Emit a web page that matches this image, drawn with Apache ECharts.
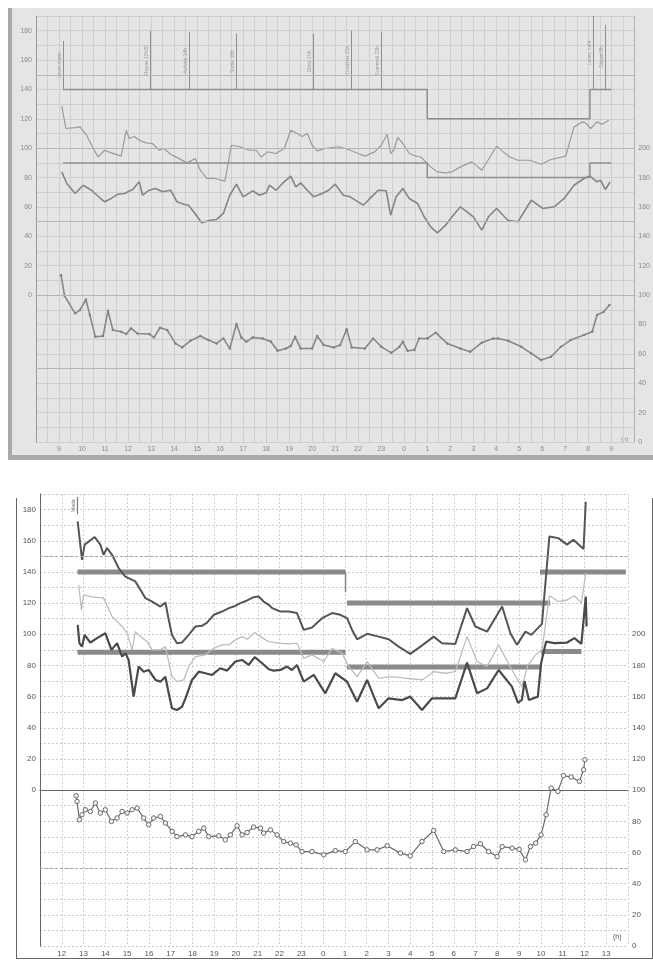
<!DOCTYPE html>
<html><head><meta charset="utf-8">
<script src="https://cdn.jsdelivr.net/npm/echarts@6.0.0/dist/echarts.min.js"></script>
<style>
html,body{margin:0;padding:0;background:#fff;}
#wrap{position:relative;width:653px;height:964px;overflow:hidden;}
.bg{position:absolute;}
#chart{position:absolute;left:0;top:0;width:653px;height:964px;}
</style></head><body>
<div id="wrap">
<div class="bg" style="left:8px;top:8px;width:645px;height:452px;background:#e5e5e7"></div>
<div class="bg" style="left:8px;top:8px;width:4px;height:452px;background:#a9a9ab"></div>
<div class="bg" style="left:8px;top:455px;width:645px;height:5px;background:#a9a9ab"></div>
<div class="bg" style="left:16px;top:498px;width:635px;height:460px;border:1.5px solid #666;border-top:none;"></div>
<div id="chart"></div>
</div>
<script>
// ---------- TOP PANEL DATA (hours; values > 24 are next day) ----------
const topSys = [[9.12,128.6],[9.30,113.4],[9.70,114],[9.91,114.5],[10.2,108.8],[10.41,102],[10.70,94],[10.98,98.6],[11.27,96.8],[11.70,94.6],[11.92,112],[12.06,106.6],[12.27,108],[12.49,105.4],[12.77,103.6],[13.06,103.2],[13.35,98.6],[13.56,99.8],[13.85,95.9],[14.13,93.6],[14.56,90],[14.92,93],[15.14,85],[15.42,79.4],[15.78,79.4],[16.21,77.6],[16.49,102],[16.85,101],[17.28,98.6],[17.57,98.6],[17.78,94],[18.07,97.5],[18.43,96.4],[18.79,99.8],[19.07,112.2],[19.36,110],[19.57,108],[19.79,110],[20.0,102],[20.22,98.2],[20.57,99.8],[21.15,101],[21.58,99.1],[22.0,96.4],[22.29,94.6],[22.72,97.5],[23.0,102],[23.26,109.5],[23.41,96.4],[23.55,98.6],[23.72,107.3],[23.94,103.2],[24.22,96.4],[24.51,94.6],[24.72,94],[24.94,90.7],[25.15,87.3],[25.44,83.9],[25.80,83.2],[26.08,83.9],[26.44,87.3],[26.94,90.7],[27.16,87.8],[27.37,85],[27.73,94],[28.02,101.4],[28.30,97.5],[28.59,94],[28.94,91.8],[29.45,91.8],[29.95,89.1],[30.38,92.3],[31.02,94.6],[31.38,114.5],[31.74,117.9],[31.88,117.2],[32.1,113.4],[32.38,117.9],[32.6,116.3],[32.89,119]];
const topDia = [[9.12,83.9],[9.34,76],[9.7,69.2],[10.05,74.8],[10.41,71.4],[10.70,67.3],[10.98,63.5],[11.27,65.8],[11.56,68.7],[11.84,69.2],[12.2,71.9],[12.49,77.1],[12.63,68],[12.92,71.4],[13.2,72.6],[13.49,70.3],[13.85,71.4],[14.13,63.5],[14.42,61.9],[14.63,61.2],[14.85,56.7],[15.2,49.2],[15.57,51],[15.85,51.5],[16.14,55.6],[16.42,68],[16.71,75.5],[17.0,66.9],[17.42,71],[17.71,68],[18.0,69.6],[18.14,74.8],[18.43,71.4],[18.71,76],[19.07,81],[19.29,73.7],[19.5,76.4],[19.79,71.4],[20.07,66.9],[20.43,69.2],[20.72,71.4],[21.0,75.5],[21.36,68],[21.65,66.9],[22.0,63.5],[22.22,61.2],[22.58,66.9],[22.87,71.4],[23.22,71],[23.41,54.4],[23.65,66.9],[23.94,72.6],[24.22,65.8],[24.58,62.4],[24.87,53.3],[25.15,46.5],[25.44,42.4],[25.80,47.6],[26.08,53.3],[26.44,60.1],[26.73,56.7],[27.01,53.3],[27.37,44.2],[27.66,53.3],[28.02,59],[28.5,51],[28.94,49.9],[29.52,64.6],[30.02,59],[30.52,60.1],[30.95,65.8],[31.38,74.8],[31.81,79.4],[32.07,81],[32.38,77.1],[32.53,78.2],[32.74,71.9],[32.95,77.1]];
const topHR = [[9.09,113.6],[9.24,99.5],[9.70,87.6],[9.91,89.8],[10.17,97],[10.34,86.4],[10.58,71.6],[10.91,72.1],[11.13,89.3],[11.34,76.2],[11.70,75.1],[11.92,73.5],[12.13,77.3],[12.41,73.9],[12.92,73.5],[13.13,71.2],[13.39,77.8],[13.70,76.2],[14.06,67.1],[14.35,64.4],[14.71,68.9],[15.14,72.1],[15.49,69.4],[15.85,67.1],[16.14,70.5],[16.42,63.7],[16.71,80.3],[16.92,71.2],[17.14,68.2],[17.42,71.2],[17.85,70.5],[18.21,68.2],[18.50,62.1],[18.86,63.7],[19.07,65.3],[19.26,71.6],[19.50,63.7],[20.0,63.7],[20.22,72.1],[20.50,66],[20.93,64.4],[21.22,66],[21.50,76.7],[21.72,64.4],[22.29,63.7],[22.65,70.5],[23.01,64.8],[23.44,60.7],[23.79,64.8],[23.94,68.2],[24.15,62.1],[24.44,62.6],[24.65,70.5],[25.01,70.5],[25.37,74.4],[25.87,67.1],[26.44,63.7],[26.87,61.4],[27.37,67.6],[27.87,70.5],[28.08,70.5],[28.52,68.9],[29.09,64.8],[29.52,60.3],[29.95,55.8],[30.38,58],[30.81,64.8],[31.24,69.4],[31.81,72.8],[32.17,75],[32.38,86.4],[32.67,88.6],[32.92,93.2]];
const topSysLimit = [[9.17,140],[25.0,140],[25.0,120],[32.07,120],[32.07,140],[33.0,140]];
const topDiaLimit = [[9.17,90],[25.0,90],[25.0,80],[32.07,80],[32.07,90],[33.0,90]];
const topEventTimes = [9.17,12.95,14.67,16.71,20.05,21.7,23.0,32.2,32.75];
const topEventTops  = [173,180,179,178,178,180,179,190,184];
const topEventTexts = ['Lever matin','Repas 12h30','Activité 14h','Sortie 16h','Dîner 20h','Coucher 21h','Sommeil 23h','Lever, café','Départ 8h'];
const topRefLevels = [150,100,50,0,-50];

// ---------- BOTTOM PANEL DATA ----------
const botSys = [[12.73,172.4],[12.85,157.5],[12.93,147.8],[13.05,157.5],[13.51,162.4],[13.77,157.5],[13.92,151],[14.08,155.3],[14.31,151],[14.61,142.5],[14.92,137],[15.38,133.9],[15.61,128.5],[15.84,123.2],[16.15,121],[16.53,117.8],[16.76,120.4],[16.91,109.3],[17.06,99.6],[17.29,94.3],[17.52,94.7],[17.83,99.6],[18.14,105],[18.44,105.4],[18.67,107.5],[18.98,112.5],[19.36,114.6],[19.67,116.8],[19.89,117.8],[20.2,120],[20.51,121.7],[20.81,123.8],[21.04,124.2],[21.27,121],[21.5,118.9],[21.66,116.8],[22.04,114.6],[22.42,114.6],[22.80,113.6],[23.11,102.8],[23.49,104.3],[23.95,110.3],[24.41,113.6],[24.79,112.5],[25.10,110.3],[25.33,102.8],[25.56,96.8],[26.02,100.3],[26.55,98.5],[27.01,96.8],[27.47,92.1],[28.0,87.4],[28.47,92.1],[29.08,98.5],[29.46,94.3],[30.07,93.8],[30.61,116.8],[30.99,105],[31.53,101.7],[32.22,117.8],[32.6,100.7],[32.9,93.2],[33.29,101.7],[33.56,99.6],[34.05,106.7],[34.39,162.8],[34.8,161.7],[35.2,157.5],[35.49,160.7],[35.86,156],[35.96,154.7],[36.06,185]];
const botMid = [[12.78,131.7],[12.9,115.7],[13.0,125.3],[13.31,124.2],[13.92,123.2],[14.31,111.4],[14.77,105],[15.0,100.7],[15.23,90],[15.38,101.7],[15.61,98.5],[15.92,95.3],[16.15,90],[16.53,90],[16.76,92.1],[17.06,72.8],[17.29,69.6],[17.6,70.7],[17.83,79.3],[18.14,85.7],[18.59,86.8],[18.98,91],[19.36,93.2],[19.67,93.2],[19.97,96.4],[20.28,98.5],[20.51,96.8],[20.86,101.1],[21.12,98.5],[21.5,95.3],[21.96,94.3],[22.42,93.8],[22.80,94.3],[23.11,84.6],[23.49,86.8],[24.03,82.5],[24.41,91],[24.87,87.9],[25.17,79.3],[25.56,72.8],[26.02,82.5],[26.55,71.8],[27.17,72.8],[27.78,71.8],[28.54,70.7],[29.08,76],[29.61,75],[30.07,76],[30.61,98.5],[31.07,82.5],[31.53,79.3],[32.06,93.2],[32.67,77.1],[33.13,66.4],[33.4,80],[33.76,86.8],[34.05,90],[34.39,124.7],[34.8,121],[35.2,122],[35.54,124.7],[35.86,120],[36.06,139.3]];
const botDia = [[12.73,106],[12.81,94.3],[12.93,92.1],[13.05,99.6],[13.31,94.7],[13.62,97.5],[14.0,100.7],[14.28,90],[14.54,94.3],[14.77,85.7],[14.92,87.9],[15.07,83.5],[15.30,60],[15.53,79.3],[15.76,76],[15.99,77.1],[16.30,70.7],[16.53,69.6],[16.76,72.8],[16.91,62.1],[17.06,52.5],[17.29,51.4],[17.52,53.5],[17.68,58.9],[17.98,70.7],[18.29,76],[18.59,75],[18.90,73.9],[19.28,78.2],[19.59,76.7],[19.97,82.5],[20.28,83.5],[20.58,80.3],[20.86,85.3],[21.2,81.4],[21.5,77.6],[21.73,76.7],[22.04,77.1],[22.34,79.3],[22.57,77.1],[22.80,80.3],[23.11,69.6],[23.57,73.9],[24.1,62.1],[24.56,75],[25.10,69.6],[25.56,56.7],[26.02,70.7],[26.55,52.5],[27.01,58.9],[27.63,57.8],[28.0,60],[28.54,51.4],[29.0,58.9],[30.07,58.9],[30.61,81.8],[31.07,62.1],[31.53,65.3],[32.06,77.1],[32.67,66.4],[32.95,56],[33.13,58],[33.25,70],[33.45,57.8],[33.86,60],[34.01,81.4],[34.24,95.3],[34.62,94.3],[35.2,94.7],[35.54,97.5],[35.86,93.8],[36.06,124.2],[36.1,105]];
const botHR = [[12.66,96.4],[12.70,92.7],[12.81,81],[12.93,84.2],[13.08,87.4],[13.31,86.3],[13.54,91.7],[13.77,85.3],[14.0,87.4],[14.28,79.9],[14.54,82.1],[14.77,86.3],[15.0,85.3],[15.23,87.4],[15.46,88.5],[15.76,82.1],[15.99,77.8],[16.22,82.1],[16.53,83.1],[16.76,78.9],[17.07,73.5],[17.29,70.2],[17.68,71.3],[17.98,70.2],[18.29,73.5],[18.52,75.6],[18.75,70.2],[19.21,70.7],[19.51,68.1],[19.74,71.3],[20.05,77.1],[20.28,71.3],[20.51,72.8],[20.81,76.3],[21.12,75.6],[21.27,72.4],[21.58,74.5],[21.89,71.3],[22.19,67],[22.50,66],[22.76,64.9],[23.03,60.6],[23.49,60.6],[24.03,58.5],[24.56,61.2],[25.02,60.6],[25.48,67],[26.02,61.7],[26.48,61.7],[26.94,64.3],[27.55,59.6],[28.0,57.8],[28.54,67],[29.08,74.1],[29.54,60.6],[30.07,61.7],[30.61,60.6],[30.91,63.8],[31.22,65.6],[31.60,60.6],[31.99,57.4],[32.22,63.8],[32.68,62.8],[33.0,62],[33.29,55.3],[33.52,63.8],[33.76,66],[34.01,71.3],[34.24,84.2],[34.47,101.3],[34.78,99.2],[35.04,109.3],[35.39,108.4],[35.77,105.6],[35.96,113.1],[36.02,119.5]];
const botSysLimits = [[[12.72,140],[25.03,140]],[[25.09,120],[34.43,120]],[[33.96,140],[37.9,140]]];
const botDiaLimits = [[[12.72,88.5],[25.03,88.5]],[[25.09,79],[34.01,79]],[[34.01,89],[35.86,89]]];
const botStep = [[25.03,140],[25.03,127]];
const botEventTimes = [12.72];
const botEventTexts = ['Mada'];
const botRefLevels = [150,-50];

// ---------- CHART ----------
const FONT = 'Liberation Sans';
const hourLbl = (lo,hi) => v => (Math.abs(v-Math.round(v))<1e-6 && v>lo && v<hi) ? String(Math.round(v)%24) : '';

function ln(data, xi, yi, color, width, extra) {
  return Object.assign({type:'line', xAxisIndex:xi, yAxisIndex:yi, data:data, symbol:'none',
    lineStyle:{color:color, width:width}, silent:true, z:3}, extra||{});
}

const series = [];
// top panel
series.push(ln(topSysLimit,0,0,'#8e8e90',1.5,{
  markLine:{silent:true, symbol:['none','none'], lineStyle:{color:'#8e8e90',width:1,type:'solid'},
    label:{show:true, position:'insideMiddleTop', distance:1, fontSize:5, color:'#9a9a9c', fontFamily:FONT,
      formatter:p=>topEventTexts[p.dataIndex]},
    data: topEventTimes.map((t,i)=>[{coord:[t,140]},{coord:[t,topEventTops[i]]}])}
}));
series.push(ln(topDiaLimit,0,0,'#8e8e90',1.5));
series.push(ln(topSys,0,0,'#9a9a9c',1.2,{
  markLine:{silent:true, symbol:['none','none'], label:{show:false},
    lineStyle:{color:'#b5b5b7',width:1,type:'solid'}, data: topRefLevels.map(v=>({yAxis:v}))}, z:2
}));
series.push(ln(topDia,0,0,'#858587',1.6));
series.push(ln(topHR,0,1,'#878789',1.6,{symbol:'circle',symbolSize:2.5,itemStyle:{color:'#828284'}}));
// bottom panel
botSysLimits.forEach(seg=>series.push(ln(seg,1,2,'#8a8a8a',5,{z:2})));
botDiaLimits.forEach(seg=>series.push(ln(seg,1,2,'#8a8a8a',5,{z:2})));
series.push(ln(botStep,1,2,'#8a8a8a',1.5,{z:2,
  markLine:{silent:true, symbol:['none','none'], label:{show:false},
    lineStyle:{color:'#a8a8a8',width:1,type:[3,2]}, data: botRefLevels.map(v=>({yAxis:v}))}}));
series.push(ln(botMid,1,2,'#bdbdbd',1.3));
series.push(ln(botSys,1,2,'#555',2,{
  markLine:{silent:true, symbol:['none','none'], lineStyle:{color:'#777',width:1.2,type:'solid'},
    label:{show:true, position:'insideMiddleTop', distance:1, fontSize:5, color:'#777', fontFamily:FONT,
      formatter:p=>botEventTexts[p.dataIndex]},
    data: botEventTimes.map(t=>[{coord:[t,177]},{coord:[t,188]}])}
}));
series.push(ln(botDia,1,2,'#4a4a4a',2.2));
series.push(ln(botHR,1,3,'#6a6a6a',1.2,{symbol:'circle',symbolSize:4.5,
  itemStyle:{color:'#f4f4f4',borderColor:'#6a6a6a',borderWidth:1}}));

const option = {
  animation:false,
  textStyle:{fontFamily:FONT},
  grid:[{left:36,top:16,width:605,height:426},{left:40,top:494,width:588,height:452}],
  xAxis:[
    {gridIndex:0,type:'value',min:8,max:34,interval:0.5,
      axisLine:{lineStyle:{color:'#9a9a9c'}},axisTick:{show:false},
      axisLabel:{formatter:hourLbl(8,34),fontSize:7,color:'#8a8a8c',margin:4},
      splitLine:{show:true,lineStyle:{color:'#cfcfd1',width:1}}},
    {gridIndex:1,type:'value',min:11,max:38,interval:1,
      axisLine:{lineStyle:{color:'#666'}},axisTick:{show:false},
      axisLabel:{formatter:hourLbl(11,38),fontSize:8,color:'#555',margin:4},
      splitLine:{show:true,lineStyle:{color:'#d0d0d0',width:1,type:[2,2]}}}
  ],
  yAxis:[
    {gridIndex:0,type:'value',min:-100,max:190,interval:10,
      axisLine:{show:true,lineStyle:{color:'#9a9a9c'}},axisTick:{show:false},
      axisLabel:{formatter:v=>(v>=0&&v<=180&&v%20===0)?String(v):'',fontSize:7,color:'#8a8a8c',margin:4},
      splitLine:{show:true,lineStyle:{color:'#cfcfd1',width:1}}},
    {gridIndex:0,type:'value',position:'right',min:0,max:290,interval:10,
      axisLine:{show:true,lineStyle:{color:'#b0b0b2'}},axisTick:{show:false},
      axisLabel:{formatter:v=>(v<=200&&v%20===0)?String(v):'',fontSize:7,color:'#8a8a8c',margin:4},
      splitLine:{show:false}},
    {gridIndex:1,type:'value',min:-100,max:190,interval:10,
      axisLine:{show:true,lineStyle:{color:'#666'}},axisTick:{show:false},
      axisLabel:{formatter:v=>(v>=0&&v<=180&&v%20===0)?String(v):'',fontSize:8,color:'#555',margin:4},
      splitLine:{show:true,lineStyle:{color:'#c8c8c8',width:1,type:[2,2]}}},
    {gridIndex:1,type:'value',position:'right',min:0,max:290,interval:10,
      axisLine:{show:false},axisTick:{show:false},
      axisLabel:{formatter:v=>(v<=200&&v%20===0)?String(v):'',fontSize:8,color:'#555',margin:4},
      splitLine:{show:false}}
  ],
  graphic:[
    {type:'text',left:621,top:436,style:{text:'(h)',fontSize:6,fill:'#8a8a8c',fontFamily:FONT}},
    {type:'text',left:613,top:934,style:{text:'(h)',fontSize:7,fill:'#555',fontFamily:FONT}}
  ],
  series:series
};
const chart = echarts.init(document.getElementById('chart'),null,{renderer:'canvas'});
chart.setOption(option);
</script>
</body></html>
